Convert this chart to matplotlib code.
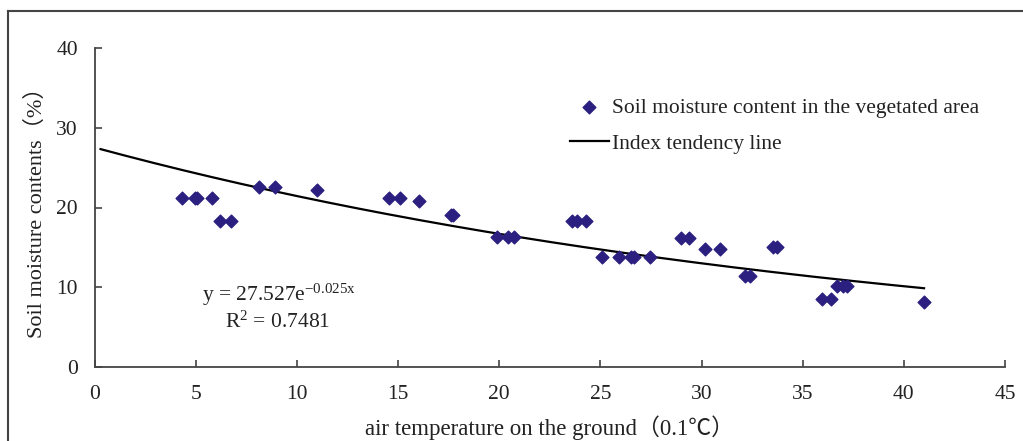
import numpy as np
import matplotlib
matplotlib.use("Agg")
import matplotlib.pyplot as plt
from matplotlib.lines import Line2D

plt.rcParams['font.family'] = ['Liberation Serif', 'Noto Sans CJK SC', 'DejaVu Sans']
plt.rcParams['mathtext.fontset'] = 'custom'
plt.rcParams['mathtext.rm'] = 'Liberation Serif'
plt.rcParams['mathtext.it'] = 'Liberation Serif:italic'

# measured points: air temperature (0.1 C) vs soil moisture (%)
temp = [4.31, 4.97, 5.05, 5.79, 6.20, 6.75, 8.15, 8.92, 10.98, 14.57, 15.10, 16.04,
        17.60, 17.72, 19.91, 20.46, 20.75, 23.59, 23.84, 24.28, 25.07, 25.94, 26.52,
        26.68, 27.46, 28.99, 29.40, 30.18, 30.92, 32.16, 32.41, 33.55, 33.75, 35.95,
        36.41, 36.72, 36.99, 37.18, 41.02]
moist = [21.2, 21.2, 21.2, 21.2, 18.35, 18.35, 22.6, 22.6, 22.2, 21.2, 21.2, 20.85,
         19.05, 19.05, 16.35, 16.35, 16.35, 18.35, 18.35, 18.35, 13.75, 13.75, 13.75,
         13.75, 13.75, 16.2, 16.2, 14.8, 14.8, 11.4, 11.4, 15.0, 15.0, 8.5,
         8.5, 10.1, 10.1, 10.1, 8.15]

# exponential trend line y = a * exp(b x)
fit_a = 27.527
fit_b = -0.025
fit_r2 = 0.7481
fit_range = (0.3, 41.0)

W, H = 1023, 441
fig = plt.figure(figsize=(W / 100, H / 100), dpi=100)
ax = fig.add_axes([94.5 / W, 1 - 367 / H, (1005 - 94.5) / W, (367 - 48) / H])

ax.scatter(temp, moist, marker='D', s=42, color='#2b2080', zorder=3,
           label='Soil moisture content in the vegetated area')
xf = np.linspace(fit_range[0], fit_range[1], 200)
ax.plot(xf, fit_a * np.exp(fit_b * xf), color='black', lw=1.6,
        label='Index tendency line')

ax.set_xlim(0, 45)
ax.set_ylim(0, 40)
ax.set_xticks(range(0, 46, 5))
ax.set_yticks(range(0, 41, 10))
ax.spines['top'].set_visible(False)
ax.spines['right'].set_visible(False)
for s in ('left', 'bottom'):
    ax.spines[s].set_color('#444444')
    ax.spines[s].set_linewidth(1.3)
ax.tick_params(direction='in', length=5, width=1.2, color='#444444', labelsize=15.5,
               labelcolor='#222222')
ax.tick_params(axis='x', pad=13)
ax.tick_params(axis='y', pad=12)

ax.set_xlabel('air temperature on the ground（0.1℃）', fontsize=16.5, color='#222222', labelpad=8)
ax.set_ylabel('Soil moisture contents（%）', fontsize=16, color='#222222', labelpad=7)

ax.legend(loc='upper left', bbox_to_anchor=(570 / W, 1 - 98 / H),
          bbox_transform=fig.transFigure, frameon=False, fontsize=15.5,
          borderpad=0, borderaxespad=0, handlelength=1.8, handletextpad=0.15,
          labelspacing=0.72, markerscale=1.0, labelcolor='#222222')

ax.text(279 / W, 1 - 295 / H, 'y = %.3fe$^{\\mathrm{-0.025x}}$' % fit_a,
        transform=fig.transFigure, ha='center', va='center', fontsize=15.5, color='#222222')
ax.text(278 / W, 1 - 322 / H, 'R$^{2}$ = %.4f' % fit_r2,
        transform=fig.transFigure, ha='center', va='center', fontsize=15.5, color='#222222')

# outer frame (partially cropped in the original)
fig.add_artist(Line2D([8 / W, 1.0], [1 - 11 / H, 1 - 11 / H], transform=fig.transFigure,
                      color='#444444', lw=1.5))
fig.add_artist(Line2D([8 / W, 8 / W], [0, 1 - 11 / H], transform=fig.transFigure,
                      color='#444444', lw=1.5))

fig.savefig('out.png', dpi=100)
